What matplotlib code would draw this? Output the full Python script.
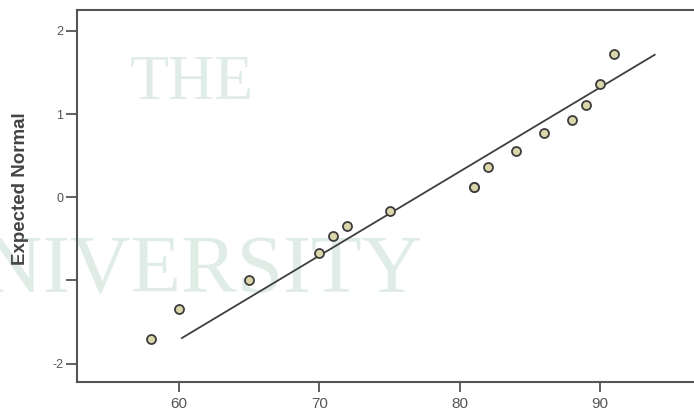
import numpy as np
import matplotlib.pyplot as plt

# Normal Q-Q plot: observed values vs expected normal
observed = [58, 60, 65, 70, 71, 72, 75, 81, 81, 82, 84, 86, 88, 89, 90, 91]
expected = [-1.70, -1.34, -1.00, -0.67, -0.47, -0.35, -0.17, 0.12, 0.12,
            0.36, 0.55, 0.77, 0.93, 1.11, 1.36, 1.72]

# reference line (mean, sd) and its x range
mean_val = 76.95
sd_val = 9.9
line_range = [60.2, 93.9]

x_ticks = [60, 70, 80, 90]
y_ticks = [-2, -1, 0, 1, 2]
y_tick_labels = ['-2', '', '0', '1', '2']

plt.rcParams['font.family'] = ['Liberation Sans', 'DejaVu Sans']

fig = plt.figure(figsize=(6.94, 4.12), dpi=100)

# faint watermark behind everything
bg = fig.add_axes([0, 0, 1, 1], zorder=-1)
bg.axis('off')
wm = '#e0ede7'
bg.text(0.187, 0.795, 'THE', family='Liberation Serif', fontsize=46,
        color=wm, ha='left', va='center')
bg.text(0.608, 0.338, 'UNIVERSITY', family='Liberation Serif', fontsize=60,
        color=wm, ha='right', va='center', clip_on=True)

ax = fig.add_axes([0.111, 0.0728, 0.889, 0.903])
ax.patch.set_alpha(0)

ax.scatter(observed, expected, s=42, facecolor='#dcd7ab', edgecolor='#3c3c3c',
           linewidth=1.3, zorder=3)

lx = np.array(line_range)
ax.plot(lx, (lx - mean_val) / sd_val, color='#3f3f3f', linewidth=1.3, zorder=2)

ax.set_xlim(52.73, 96.7)
ax.set_ylim(-2.22, 2.25)
ax.set_xticks(x_ticks)
ax.set_yticks(y_ticks)
ax.set_yticklabels(y_tick_labels)

for s in ['left', 'bottom', 'top']:
    ax.spines[s].set_color('#555555')
    ax.spines[s].set_linewidth(1.5)
ax.spines['right'].set_visible(False)

ax.tick_params(axis='x', length=7, width=1.3, color='#555555', labelsize=11,
               labelcolor='#555555', pad=4)
ax.tick_params(axis='y', length=8, width=1.3, color='#555555', labelsize=9,
               labelcolor='#555555', pad=2)

fig.text(0.030, 0.541, 'Expected Normal', rotation=90, fontsize=13.5,
         fontweight='bold', color='#444444', ha='center', va='center')

fig.savefig('out.png', dpi=100)
